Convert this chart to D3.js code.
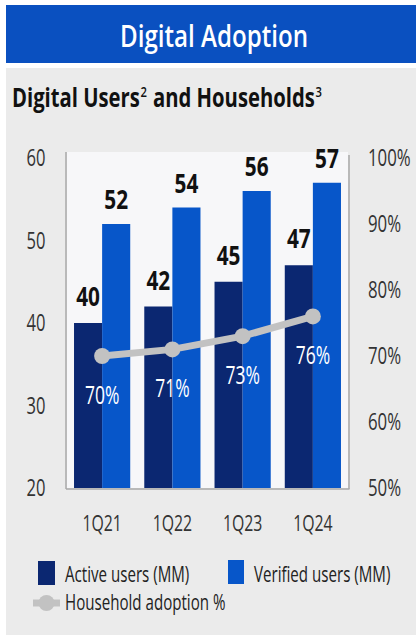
<!DOCTYPE html>
<html><head><meta charset="utf-8">
<script src="https://cdn.jsdelivr.net/npm/d3@7"></script>
<style>
html,body{margin:0;padding:0;background:#fff;}
svg{display:block;}
text{font-family:"Open Sans",sans-serif;}
</style></head>
<body><svg id="c" width="416" height="643"></svg>
<script>
const categories = ["1Q21","1Q22","1Q23","1Q24"];
const activeUsers = [40,42,45,47];
const verifiedUsers = [52,54,56,57];
const householdPct = [70,71,73,76];
const leftTicks = [20,30,40,50,60];
const rightTicks = [50,60,70,80,90,100];
const seriesNames = ["Active users (MM)","Verified users (MM)","Household adoption %"];
const title = "Digital Adoption";
const subtitleParts = [["Digital Users",false],["2",true],["and Households",false],["3",true]];

const C = {dark:"#0b2771", blue:"#0756c9", gray:"#c2c2c2", head:"#0a50c0", panel:"#ebebeb"};
const svg = d3.select("#c");

function ctext(g, x, y, str, opt){
  const t = g.append("g").attr("transform",`translate(${x},${y}) scale(${opt.sx||0.75},1)`)
    .append("text").attr("text-anchor",opt.anchor||"middle")
    .attr("font-size",opt.size).attr("font-weight",opt.weight||400)
    .attr("fill",opt.fill||"#222");
  t.text(str);
  return t;
}

// header & panel
svg.append("rect").attr("x",6).attr("y",5).attr("width",410).attr("height",58).attr("fill",C.head);
svg.append("rect").attr("x",6).attr("y",68).attr("width",410).attr("height",567).attr("fill",C.panel);
svg.append("text").attr("x",214).attr("y",47).attr("text-anchor","middle")
  .attr("font-size",30).attr("font-weight",600).attr("fill","#fff")
  .attr("textLength",188).attr("lengthAdjust","spacingAndGlyphs").text(title);

// subtitle built from separate pieces
const subG = svg.append("g");
let cur = 0;
subtitleParts.forEach(([s,sup],i)=>{
  const t = subG.append("text").attr("x",cur).attr("y",sup?-10:0)
    .attr("font-size",sup?15:27).attr("font-weight",sup?600:700).attr("fill","#111").text(s);
  cur += t.node().getComputedTextLength() + (sup?(i<subtitleParts.length-1?8:0):1);
});
subG.attr("transform",`translate(12,107) scale(${310/cur},1)`);

// scales
const x0 = d3.scaleBand().domain(categories).range([67,348]).paddingInner(0.2).paddingOuter(0.1);
const x1 = d3.scaleBand().domain([0,1]).range([0,x0.bandwidth()]);
const yL = d3.scaleLinear().domain([20,60]).range([488,158]);
const yR = d3.scaleLinear().domain([50,100]).range([488,158]);

// plot area
svg.append("rect").attr("x",67).attr("y",152).attr("width",281).attr("height",336).attr("fill","#f7f7f9");

const g = svg.append("g");
categories.forEach((c,i)=>{
  g.append("rect").attr("x",x0(c)+x1(0)).attr("width",x1.bandwidth()).attr("y",yL(activeUsers[i])).attr("height",yL(20)-yL(activeUsers[i])).attr("fill",C.dark);
  g.append("rect").attr("x",x0(c)+x1(1)).attr("width",x1.bandwidth()).attr("y",yL(verifiedUsers[i])).attr("height",yL(20)-yL(verifiedUsers[i])).attr("fill",C.blue);
  ctext(g, x0(c)+x1(0)+x1.bandwidth()/2, yL(activeUsers[i])-17, activeUsers[i], {size:26,weight:700,sx:0.8,fill:"#111"});
  ctext(g, x0(c)+x1(1)+x1.bandwidth()/2, yL(verifiedUsers[i])-15, verifiedUsers[i], {size:26,weight:700,sx:0.8,fill:"#111"});
});

// frame lines
svg.append("line").attr("x1",66).attr("x2",66).attr("y1",152).attr("y2",489).attr("stroke","#a8a8a8").attr("stroke-width",1.5);
svg.append("line").attr("x1",349).attr("x2",349).attr("y1",155).attr("y2",489).attr("stroke","#a8a8a8").attr("stroke-width",1.5);
svg.append("line").attr("x1",66).attr("x2",349.5).attr("y1",489).attr("y2",489).attr("stroke","#a8a8a8").attr("stroke-width",1.5);

// household line
const cx = c => x0(c)+x0.bandwidth()/2;
const line = d3.line().x((d,i)=>cx(categories[i])).y(d=>yR(d));
svg.append("path").datum(householdPct).attr("d",line).attr("fill","none").attr("stroke",C.gray).attr("stroke-width",7);
svg.selectAll("circle.hh").data(householdPct).enter().append("circle").attr("class","hh")
  .attr("cx",(d,i)=>cx(categories[i])).attr("cy",d=>yR(d)).attr("r",8).attr("fill",C.gray);
householdPct.forEach((d,i)=>{
  ctext(svg, cx(categories[i]), yR(d)+48, d+"%", {size:25,sx:0.7,fill:"#fff"});
});

// axes labels
leftTicks.forEach(t=>ctext(svg, 36, yL(t)+8, t, {size:23,sx:0.72,fill:"#333"}));
rightTicks.forEach(t=>ctext(svg, 368, yR(t)+8, t+"%", {size:23,sx:0.73,fill:"#333",anchor:"start"}));
categories.forEach(c=>ctext(svg, cx(c), 531, c, {size:22,sx:0.72,fill:"#333"}));

// legend
svg.append("rect").attr("x",38).attr("y",561).attr("width",17).attr("height",24).attr("fill",C.dark);
ctext(svg, 65, 582, seriesNames[0], {size:21,sx:0.72,fill:"#222",anchor:"start"});
svg.append("rect").attr("x",228).attr("y",560).attr("width",16).attr("height",24).attr("fill",C.blue);
ctext(svg, 254, 582, seriesNames[1], {size:21,sx:0.72,fill:"#222",anchor:"start"});
svg.append("line").attr("x1",33).attr("x2",60).attr("y1",603).attr("y2",603).attr("stroke",C.gray).attr("stroke-width",7);
svg.append("circle").attr("cx",46.5).attr("cy",603).attr("r",8).attr("fill",C.gray);
ctext(svg, 65, 610, seriesNames[2], {size:21,sx:0.72,fill:"#222",anchor:"start"});
</script></body></html>
